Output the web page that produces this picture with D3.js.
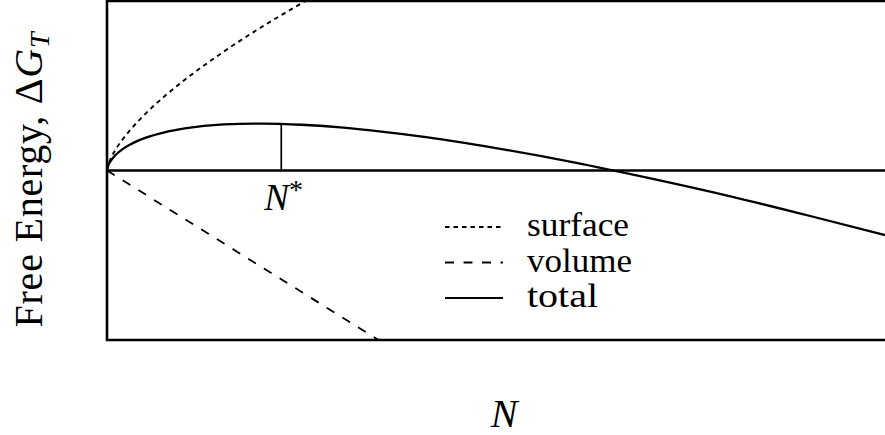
<!DOCTYPE html>
<html>
<head>
<meta charset="utf-8">
<script src="https://cdn.jsdelivr.net/npm/d3@7"></script>
<style>
  html, body { margin: 0; padding: 0; background: #fff; }
  svg { display: block; }
</style>
</head>
<body>
<svg id="chart" width="885" height="435"></svg>
<script>
// Cluster size N (arbitrary units) and free-energy contributions
const surfaceN = [0, 0.1, 0.25, 0.5, 1, 2, 3, 5, 7.5, 10, 15, 20, 25, 27];
const surfaceG = [0, 0.25, 0.46, 0.73, 1.15, 1.83, 2.40, 3.37, 4.42, 5.35, 7.01, 8.50, 9.86, 10.38];

const volumeN = [0, 35];
const volumeG = [0, -10.03];

const totalN = [0, 0.1, 0.25, 0.5, 1, 2, 3, 5, 7.5, 10, 15, 20, 25, 30, 35, 40, 50, 60, 70, 80, 90, 100];
const totalG = [0, 0.22, 0.39, 0.58, 0.87, 1.26, 1.54, 1.94, 2.27, 2.49, 2.72, 2.77, 2.70, 2.54, 2.31, 2.03, 1.32, 0.48, -0.48, -1.51, -2.64, -3.81];

// critical nucleus size and the barrier height there
const nStar = 22.4;
const gStar = 2.75;

const legendLabels = ["surface", "volume", "total"];
const legendDash = ["4.5,4", "9,9.5", null];

const SERIF = "'Liberation Serif'";

const svg = d3.select("#chart");

const x = d3.scaleLinear().domain([0, 100]).range([107, 885]);
const y = d3.scaleLinear().domain([-10, 10]).range([340, 1]);

// clip the curves to the plotting frame
svg.append("defs").append("clipPath").attr("id", "plot")
  .append("rect")
  .attr("x", x(0)).attr("y", y(10))
  .attr("width", 800).attr("height", y(-10) - y(10));

const line = d3.line()
  .x(d => x(d[0]))
  .y(d => y(d[1]))
  .curve(d3.curveMonotoneX);

const plot = svg.append("g").attr("clip-path", "url(#plot)");

// zero reference line
plot.append("line")
  .attr("x1", x(0)).attr("x2", x(100) + 10)
  .attr("y1", y(0)).attr("y2", y(0))
  .attr("stroke", "#000").attr("stroke-width", 2.6);

plot.append("path")
  .datum(d3.zip(surfaceN, surfaceG))
  .attr("d", line)
  .attr("fill", "none").attr("stroke", "#000")
  .attr("stroke-width", 1.9).attr("stroke-dasharray", legendDash[0]);

plot.append("path")
  .datum(d3.zip(volumeN, volumeG))
  .attr("d", line)
  .attr("fill", "none").attr("stroke", "#000")
  .attr("stroke-width", 1.8).attr("stroke-dasharray", legendDash[1]);

plot.append("path")
  .datum(d3.zip(totalN, totalG))
  .attr("d", line)
  .attr("fill", "none").attr("stroke", "#000")
  .attr("stroke-width", 2.3);

// marker of the critical size
plot.append("line")
  .attr("x1", x(nStar)).attr("x2", x(nStar))
  .attr("y1", y(0)).attr("y2", y(gStar))
  .attr("stroke", "#000").attr("stroke-width", 1.7);

// frame (right side runs past the window edge)
svg.append("path")
  .attr("d", `M${x(100) + 10},${y(10)} H${x(0)} V${y(-10)} H${x(100) + 10}`)
  .attr("fill", "none").attr("stroke", "#000").attr("stroke-width", 2.6);

// N* label
const ns = svg.append("text")
  .attr("x", x(nStar) - 17).attr("y", 210)
  .style("font-family", SERIF)
  .attr("font-size", 37);
ns.append("tspan").attr("font-style", "italic").text("N");
ns.append("tspan").attr("dy", -11).attr("font-size", 28).text("*");

// legend
const legendWidth = [102, 105, 71];
const legend = svg.append("g");
legendLabels.forEach((lab, i) => {
  const ly = 227 + i * 35.5;
  legend.append("line")
    .attr("x1", 445).attr("x2", 503)
    .attr("y1", ly).attr("y2", ly)
    .attr("stroke", "#000")
    .attr("stroke-width", i === 2 ? 2.2 : 1.8)
    .attr("stroke-dasharray", legendDash[i]);
  legend.append("text")
    .attr("x", 527).attr("y", ly + 9)
    .style("font-family", SERIF)
    .attr("font-size", 34)
    .attr("textLength", legendWidth[i])
    .attr("lengthAdjust", "spacingAndGlyphs")
    .text(lab);
});

// axis titles
svg.append("text")
  .attr("x", 504).attr("y", 427)
  .attr("text-anchor", "middle")
  .style("font-family", SERIF)
  .attr("font-size", 40)
  .attr("font-style", "italic")
  .text("N");

const yl = svg.append("text")
  .attr("transform", "translate(42,180) rotate(-90)")
  .attr("text-anchor", "middle")
  .style("font-family", SERIF)
  .attr("font-size", 40)
  .attr("textLength", 295)
  .attr("lengthAdjust", "spacing");
yl.append("tspan").text("Free Energy, \u0394");
yl.append("tspan").attr("font-style", "italic").text("G");
yl.append("tspan").attr("font-style", "italic").attr("font-size", 28).attr("dy", 7).text("T");
</script>
</body>
</html>
